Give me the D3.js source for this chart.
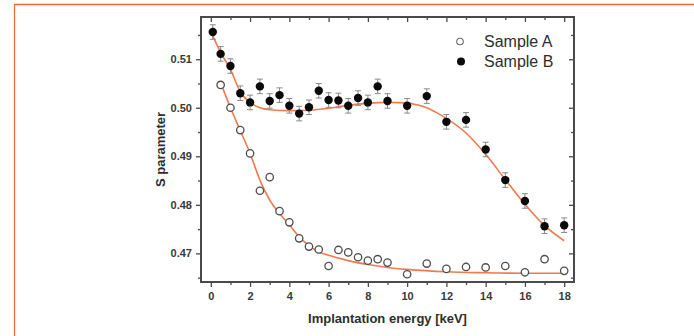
<!DOCTYPE html>
<html>
<head>
<meta charset="utf-8">
<script src="https://cdn.jsdelivr.net/npm/d3@7"></script>
<style>
  html, body { margin: 0; padding: 0; background: #fff; }
  svg { display: block; font-family: "Liberation Sans", Arial, sans-serif; }
</style>
</head>
<body>
<svg id="chart" width="694" height="336"></svg>
<script>
// Implantation energies (keV) and S parameter measurements
const energyA = [0.5, 1, 1.5, 2, 2.5, 3, 3.5, 4, 4.5, 5, 5.5, 6, 6.5, 7, 7.5, 8, 8.5, 9, 10, 11, 12, 13, 14, 15, 16, 17, 18];
const sampleA = [0.5047, 0.5000, 0.4954, 0.4906, 0.4829, 0.4857, 0.4787, 0.4764, 0.4731, 0.4714, 0.4708, 0.4674, 0.4707, 0.4702, 0.4692, 0.4685, 0.4688, 0.4681, 0.4657, 0.4679, 0.4668, 0.4672, 0.4671, 0.4674, 0.4661, 0.4688, 0.4664];

const energyB = [0.1, 0.5, 1, 1.5, 2, 2.5, 3, 3.5, 4, 4.5, 5, 5.5, 6, 6.5, 7, 7.5, 8, 8.5, 9, 10, 11, 12, 13, 14, 15, 16, 17, 18];
const sampleB = [0.5156, 0.5111, 0.5086, 0.5030, 0.5011, 0.5044, 0.5014, 0.5026, 0.5004, 0.4988, 0.5001, 0.5035, 0.5016, 0.5015, 0.5004, 0.5020, 0.5011, 0.5044, 0.5014, 0.5004, 0.5024, 0.4971, 0.4975, 0.4914, 0.4851, 0.4808, 0.4756, 0.4758];
const errorB = 0.0015;

// Fitted curves
const fitEnergyA = [0.5, 1, 1.5, 2, 2.5, 3, 3.5, 4, 4.5, 5, 5.5, 6, 7, 8, 9, 10, 12, 14, 16, 18];
const fitA = [0.5052, 0.5000, 0.4953, 0.4906, 0.4851, 0.4810, 0.4782, 0.4759, 0.4734, 0.4716, 0.4703, 0.4696, 0.4685, 0.4677, 0.4671, 0.4667, 0.4662, 0.4660, 0.4659, 0.4659];
const fitEnergyB = [0.1, 0.5, 1, 1.5, 2, 2.5, 3, 4, 5, 6, 7, 8, 9, 10, 10.5, 11, 11.5, 12, 13, 14, 15, 16, 17, 18];
const fitB = [0.5148, 0.5114, 0.5079, 0.5033, 0.5011, 0.5000, 0.4996, 0.4994, 0.4995, 0.4999, 0.5005, 0.5009, 0.5011, 0.5010, 0.5006, 0.5000, 0.4990, 0.4978, 0.4948, 0.4904, 0.4852, 0.4801, 0.4757, 0.4726];

const xMajor = [0, 2, 4, 6, 8, 10, 12, 14, 16, 18];
const xMinor = [1, 3, 5, 7, 9, 11, 13, 15, 17];
const yMajor = [0.47, 0.48, 0.49, 0.50, 0.51];
const yMinor = [0.465, 0.475, 0.485, 0.495, 0.505, 0.515];

const seriesNames = ["Sample A", "Sample B"];

const svg = d3.select("#chart");
const frameColor = "#ee6a35";
const axisColor = "#4a4a4a";
const fitColor = "#ef7a4f";

// Page frame: top and left rules
svg.append("line").attr("x1", 14).attr("x2", 694).attr("y1", 4.5).attr("y2", 4.5)
  .attr("stroke", frameColor).attr("stroke-width", 1.6);
svg.append("line").attr("x1", 14.5).attr("x2", 14.5).attr("y1", 4).attr("y2", 336)
  .attr("stroke", frameColor).attr("stroke-width", 1.2);

const plot = { left: 201, right: 574, top: 17, bottom: 282 };
const x = d3.scaleLinear().domain([-0.5, 18.5]).range([plot.left, plot.right]);
const y = d3.scaleLinear().domain([0.4641, 0.5187]).range([plot.bottom, plot.top]);

function styleAxis(g) {
  g.select(".domain").remove();
  g.selectAll(".tick line").attr("stroke", axisColor).attr("stroke-width", 1.3);
  g.selectAll(".tick text").attr("fill", "#3a3a3a").attr("font-size", 11).attr("font-weight", "bold");
}

// Bottom axis (outward ticks, labelled)
svg.append("g").attr("transform", `translate(0,${plot.bottom})`)
  .call(d3.axisBottom(x).tickValues(xMajor).tickSize(5).tickPadding(5).tickFormat(d3.format("d")))
  .call(styleAxis);
svg.append("g").attr("transform", `translate(0,${plot.bottom})`)
  .call(d3.axisBottom(x).tickValues(xMinor).tickSize(3).tickFormat(""))
  .call(styleAxis);
// Top axis (inward ticks)
svg.append("g").attr("transform", `translate(0,${plot.top})`)
  .call(d3.axisBottom(x).tickValues(xMajor).tickSize(5).tickFormat(""))
  .call(styleAxis);
svg.append("g").attr("transform", `translate(0,${plot.top})`)
  .call(d3.axisBottom(x).tickValues(xMinor).tickSize(3).tickFormat(""))
  .call(styleAxis);
// Left axis (outward ticks, labelled)
svg.append("g").attr("transform", `translate(${plot.left},0)`)
  .call(d3.axisLeft(y).tickValues(yMajor).tickSize(5).tickPadding(4).tickFormat(d3.format(".2f")))
  .call(styleAxis);
svg.append("g").attr("transform", `translate(${plot.left},0)`)
  .call(d3.axisLeft(y).tickValues(yMinor).tickSize(3).tickFormat(""))
  .call(styleAxis);
// Right axis (inward ticks)
svg.append("g").attr("transform", `translate(${plot.right},0)`)
  .call(d3.axisLeft(y).tickValues(yMajor).tickSize(5).tickFormat(""))
  .call(styleAxis);
svg.append("g").attr("transform", `translate(${plot.right},0)`)
  .call(d3.axisLeft(y).tickValues(yMinor).tickSize(3).tickFormat(""))
  .call(styleAxis);

// Plot box
svg.append("rect")
  .attr("x", plot.left).attr("y", plot.top)
  .attr("width", plot.right - plot.left).attr("height", plot.bottom - plot.top)
  .attr("fill", "none").attr("stroke", axisColor).attr("stroke-width", 2);

// Axis titles
svg.append("text")
  .attr("x", (plot.left + plot.right) / 2).attr("y", 323)
  .attr("text-anchor", "middle").attr("font-size", 13).attr("font-weight", "bold")
  .attr("fill", "#2e2e2e").text("Implantation energy [keV]");
svg.append("text")
  .attr("transform", `translate(165,${(plot.top + plot.bottom) / 2}) rotate(-90)`)
  .attr("text-anchor", "middle").attr("font-size", 13).attr("font-weight", "bold")
  .attr("fill", "#2e2e2e").text("S parameter");

// Fit curves
const line = d3.line().curve(d3.curveMonotoneX);
svg.append("path")
  .attr("d", line(fitEnergyA.map((e, i) => [x(e), y(fitA[i])])))
  .attr("fill", "none").attr("stroke", fitColor).attr("stroke-width", 1.6);
svg.append("path")
  .attr("d", line(fitEnergyB.map((e, i) => [x(e), y(fitB[i])])))
  .attr("fill", "none").attr("stroke", fitColor).attr("stroke-width", 1.6);

// Error bars for sample B
const eb = svg.append("g").attr("stroke", "#8a8a8a").attr("stroke-width", 1);
energyB.forEach((e, i) => {
  const cx = x(e), y1 = y(sampleB[i] - errorB), y2 = y(sampleB[i] + errorB);
  eb.append("line").attr("x1", cx).attr("x2", cx).attr("y1", y1).attr("y2", y2);
  eb.append("line").attr("x1", cx - 3).attr("x2", cx + 3).attr("y1", y1).attr("y2", y1);
  eb.append("line").attr("x1", cx - 3).attr("x2", cx + 3).attr("y1", y2).attr("y2", y2);
});

// Markers
svg.append("g").selectAll("circle").data(energyA).join("circle")
  .attr("cx", d => x(d)).attr("cy", (d, i) => y(sampleA[i])).attr("r", 3.7)
  .attr("fill", "#fff").attr("stroke", "#4d4d4d").attr("stroke-width", 1.3);
svg.append("g").selectAll("circle").data(energyB).join("circle")
  .attr("cx", d => x(d)).attr("cy", (d, i) => y(sampleB[i])).attr("r", 4.2)
  .attr("fill", "#0a0a0a");

// Legend
const legend = svg.append("g");
legend.append("circle").attr("cx", 460).attr("cy", 41.5).attr("r", 3.3)
  .attr("fill", "#fff").attr("stroke", "#6a6a6a").attr("stroke-width", 1.1);
legend.append("circle").attr("cx", 461).attr("cy", 61.5).attr("r", 4)
  .attr("fill", "#0a0a0a");
legend.selectAll("text").data(seriesNames).join("text")
  .attr("x", 484).attr("y", (d, i) => 47 + i * 20)
  .attr("font-size", 16).attr("fill", "#2e2e2e").text(d => d);
</script>
</body>
</html>
